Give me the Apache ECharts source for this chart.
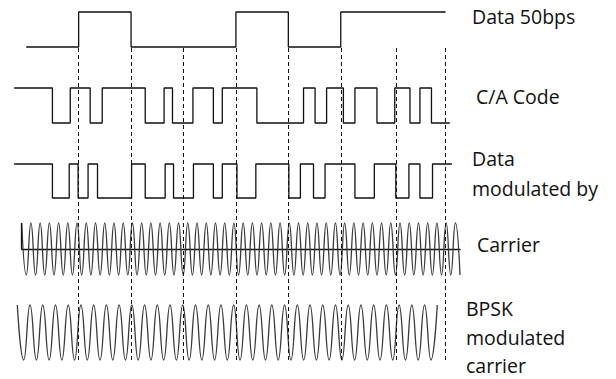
<!DOCTYPE html>
<html><head><meta charset="utf-8">
<script src="https://cdn.jsdelivr.net/npm/echarts@6/dist/echarts.min.js"></script>
<style>html,body{margin:0;padding:0;background:#fff}#c{width:616px;height:379px}</style>
</head><body><div id="c"></div>
<script>
// time in data-bit units (one 50bps bit = 1)
const dataEdges = [0, 1, 2, 4, 5, 6, 8];
const dataLevels = [0, 1, 0, 1, 0, 1];
const caEdges = [-0.23, 0.5, 0.84, 1.22, 1.45, 2.27, 2.63, 2.79, 3.18, 3.57, 3.74, 4.4, 5.29, 5.51, 5.73, 6.05, 6.27, 6.69, 7.03, 7.32, 7.51, 7.73, 8.08];
const caLevels = [1, 0, 1, 0, 1, 0, 1, 0, 1, 0, 1, 0, 1, 0, 1, 0, 1, 0, 1, 0, 1, 0];
const modEdges = [-0.23, 0.5, 0.82, 0.99, 1.18, 1.36, 2.01, 2.27, 2.65, 2.81, 3.19, 3.57, 3.74, 4.02, 4.38, 5.01, 5.23, 5.48, 5.7, 6.27, 6.64, 7.05, 7.3, 7.51, 7.75, 8.12];
const modLevels = [1, 0, 1, 0, 1, 0, 1, 0, 1, 0, 1, 0, 1, 0, 1, 0, 1, 0, 1, 0, 1, 0, 1, 0, 1];
// carrier: successive extremes (peak = 1, trough = -1)
const carrierPeaks = [1,-1,1,-1,1,-1,1,-1,1,-1,1,-1,1,-1,1,-1,1,-1,1,-1,1,-1,1,-1,1,-1,1,-1,1,-1,1,-1,1,-1,1,-1,1,-1,1,-1,1,-1,1,-1,1,-1,1,-1,1,-1,1,-1,1,-1,1,-1,1,-1,1,-1,1,-1,1,-1,1,-1,1,-1,1,-1,1,-1,1,-1,1,-1,1,-1,1,-1,1,-1,1,-1,1,-1,1,-1,1,-1,1,-1,1,-1,1,-1];
// BPSK modulated carrier: successive extremes
const bpskPeaks = [1,-1,1,-1,1,-1,1,-1,1,-1,1,-1,1,-1,1,-1,1,-1,1,-1,1,-1,1,-1,1,-1,1,-1,1,-1,1,-1,1,-1,1,-1,1,-1,1,-1,1,-1,1,-1,1,-1,1,-1,1,-1,1,-1,1,-1,1,-1,1,-1,1,-1,1,-1,1,-1,1,-1,1];
const dashTimes = [1, 2, 3, 4, 5, 6, 7.05, 8];
const labels = ['Data 50bps', 'C/A Code', 'Data', 'modulated by', 'Carrier', 'BPSK', 'modulated', 'carrier'];

function stepPoints(edges, levels) {
  const pts = [];
  for (let i = 0; i < levels.length; i++) {
    pts.push([edges[i], levels[i]]);
    pts.push([edges[i + 1], levels[i]]);
  }
  return pts;
}
const idx = a => a.map((_, i) => i);

const chart = echarts.init(document.getElementById('c'), null, {renderer: 'svg'});
const timeAxis = {type: 'value', min: -0.5, max: 11.25, show: false};
const hidden = {show: false};
const sq = {type: 'line', symbol: 'none', clip: false, lineStyle: {color: '#111', width: 1.3}, animation: false};
const wave = {type: 'line', symbol: 'none', clip: false, smooth: 0.5, lineStyle: {color: '#3a3a3a', width: 1.3}, animation: false};
const font = {fontFamily: 'Open Sans', fontSize: 19.5, fill: '#111'};
const labelPos = [[472, 20], [476, 100], [472, 162], [472, 192], [477, 248], [466, 312], [466, 341], [466, 369]];

chart.setOption({
  animation: false,
  grid: [
    {left: 0, right: 0, top: 12, height: 35},
    {left: 0, right: 0, top: 88, height: 35},
    {left: 0, right: 0, top: 164, height: 34},
    {left: 0, right: 0, top: 47, height: 313},
    {left: 21.7, width: 438.3, top: 223, height: 52},
    {left: 17.3, width: 420, top: 305, height: 55}
  ],
  xAxis: [
    Object.assign({gridIndex: 0}, timeAxis),
    Object.assign({gridIndex: 1}, timeAxis),
    Object.assign({gridIndex: 2}, timeAxis),
    Object.assign({gridIndex: 3}, timeAxis),
    {gridIndex: 4, type: 'category', boundaryGap: false, data: idx(carrierPeaks),
     axisLine: {show: true, onZero: true, lineStyle: {color: '#111', width: 1.3}},
     axisTick: hidden, axisLabel: hidden, splitLine: hidden},
    {gridIndex: 5, type: 'category', boundaryGap: false, data: idx(bpskPeaks), show: false}
  ],
  yAxis: [
    {gridIndex: 0, type: 'value', min: 0, max: 1, show: false},
    {gridIndex: 1, type: 'value', min: 0, max: 1, show: false},
    {gridIndex: 2, type: 'value', min: 0, max: 1, show: false},
    {gridIndex: 3, type: 'value', min: 0, max: 1, show: false},
    {gridIndex: 4, type: 'value', min: -1, max: 1, show: false},
    {gridIndex: 5, type: 'value', min: -1, max: 1, show: false}
  ],
  series: [
    Object.assign({}, sq, {name: 'Data 50bps', xAxisIndex: 0, yAxisIndex: 0, data: stepPoints(dataEdges, dataLevels)}),
    Object.assign({}, sq, {name: 'C/A Code', xAxisIndex: 1, yAxisIndex: 1, data: stepPoints(caEdges, caLevels)}),
    Object.assign({}, sq, {name: 'Data modulated by', xAxisIndex: 2, yAxisIndex: 2, data: stepPoints(modEdges, modLevels)}),
    Object.assign({}, wave, {name: 'Carrier', xAxisIndex: 4, yAxisIndex: 4, data: carrierPeaks,
      markLine: {silent: true, symbol: ['none', 'none'], label: hidden, animation: false,
        lineStyle: {type: 'solid', color: '#111', width: 1.3},
        data: [[{coord: [0, 0]}, {coord: [0, 1]}]]}}),
    Object.assign({}, wave, {name: 'BPSK modulated carrier', xAxisIndex: 5, yAxisIndex: 5, data: bpskPeaks}),
    {type: 'line', xAxisIndex: 3, yAxisIndex: 3, data: [], symbol: 'none',
     markLine: {silent: true, symbol: ['none', 'none'], label: hidden, animation: false,
       lineStyle: {type: [4, 3], color: '#111', width: 1},
       data: dashTimes.map(t => ({xAxis: t}))}}
  ],
  graphic: labels.map((t, i) => ({
    type: 'text', left: labelPos[i][0], top: labelPos[i][1] - 14,
    style: Object.assign({text: t}, font)
  }))
});
</script>
</body></html>
